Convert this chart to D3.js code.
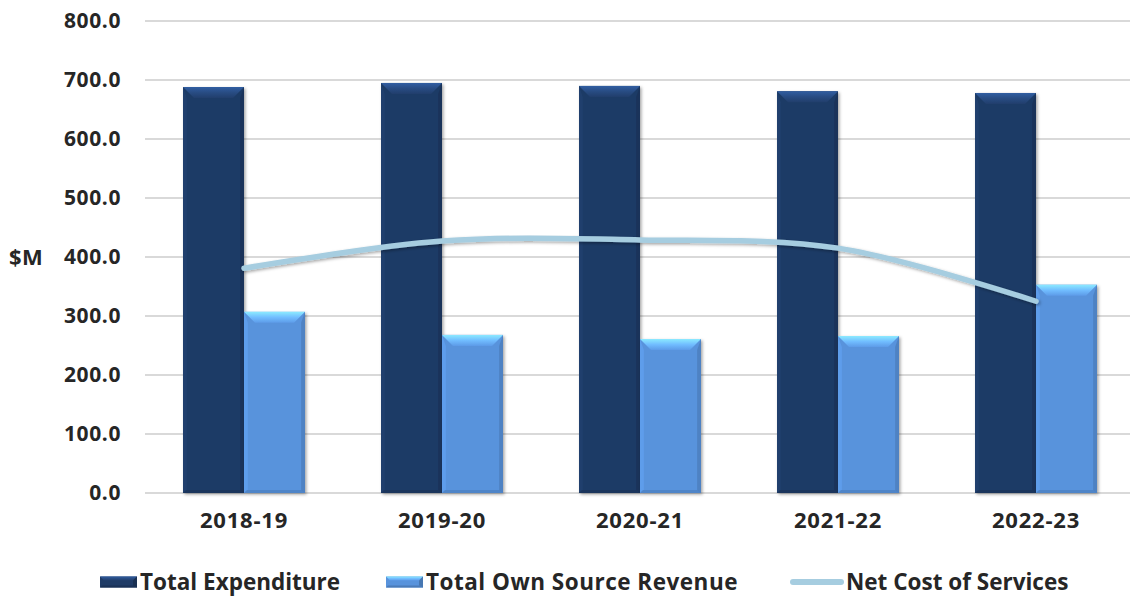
<!DOCTYPE html>
<html>
<head>
<meta charset="utf-8">
<script src="https://cdn.jsdelivr.net/npm/d3@7"></script>
<style>
  html, body { margin: 0; padding: 0; background: #fff; overflow: hidden; }
  svg { display: block; font-family: "Open Sans", sans-serif; }
</style>
</head>
<body>
<svg id="chart" width="1130" height="598"></svg>
<script>
// Financial years shown on the x axis
const years = ["2018-19", "2019-20", "2020-21", "2021-22", "2022-23"];
// Values in $M
const totalExpenditure = [688, 695, 690, 681, 678];
const ownSourceRevenue = [307, 268, 261, 266, 353];
const netCostOfServices = [381, 427, 429, 415, 325];
// Y axis ticks
const yTicks = [0, 100, 200, 300, 400, 500, 600, 700, 800];

const svg = d3.select("#chart");
const W = 1130, H = 598;
const plot = { left: 145, right: 1135, top: 21, bottom: 493 };

const x = d3.scaleBand().domain(years).range([plot.left, plot.right]).paddingInner(0).paddingOuter(0);
const y = d3.scaleLinear().domain([0, 800]).range([plot.bottom, plot.top]);

const colors = {
  exp: "#1f3b66",
  rev: "#5893dc",
  net: "#a6cde0",
  grid: "#d9d9d9",
  text: "#262626"
};
const FONT = "'Open Sans', sans-serif";

const defs = svg.append("defs");
const shadow = defs.append("filter").attr("id", "shadow")
  .attr("x", "-20%").attr("y", "-5%").attr("width", "140%").attr("height", "115%");
shadow.append("feDropShadow").attr("dx", 1.5).attr("dy", 1.5)
  .attr("stdDeviation", 1.5).attr("flood-color", "#000").attr("flood-opacity", 0.35);

function bevelGradients(id, base) {
  const c = d3.color(base);
  const top = defs.append("linearGradient").attr("id", id + "-top")
    .attr("x1", 0).attr("y1", 0).attr("x2", 0).attr("y2", 1);
  top.append("stop").attr("offset", 0).attr("stop-color", c.brighter(1.3));
  top.append("stop").attr("offset", 0.5).attr("stop-color", c.brighter(0.7));
  top.append("stop").attr("offset", 1).attr("stop-color", c.brighter(0.15));
}
bevelGradients("exp", colors.exp);
bevelGradients("rev", colors.rev);

// Gridlines
svg.append("g").selectAll("line").data(yTicks).join("line")
  .attr("x1", plot.left).attr("x2", W)
  .attr("y1", d => y(d)).attr("y2", d => y(d))
  .attr("stroke", colors.grid).attr("stroke-width", 2);

// Y axis labels
const yAxis = d3.axisLeft(y).tickValues(yTicks).tickFormat(d3.format(".1f")).tickSize(0).tickPadding(0);
const yg = svg.append("g").attr("transform", `translate(121,0)`).call(yAxis);
yg.select(".domain").remove();
yg.selectAll("text").attr("font-size", 21).attr("font-weight", 700)
  .attr("fill", colors.text).attr("font-family", FONT).attr("letter-spacing", 0.6);

svg.append("text").attr("x", 9).attr("y", y(400)).attr("dy", "0.35em")
  .attr("font-size", 22).attr("font-weight", 700).attr("fill", colors.text)
  .attr("letter-spacing", 0.5).text("$M");

// X axis labels
const xAxis = d3.axisBottom(x).tickSize(0).tickPadding(0);
const xg = svg.append("g").attr("transform", `translate(0,${plot.bottom + 19})`).call(xAxis);
xg.select(".domain").remove();
xg.selectAll("text").attr("font-size", 22).attr("font-weight", 700)
  .attr("fill", colors.text).attr("font-family", FONT).attr("dy", "0.71em")
  .attr("letter-spacing", 0.8);

// Bars with bevel
const barW = 61;
function drawBevelBar(g, bx, by, bw, bh, base, id) {
  const b = Math.min(11, bh / 2, bw / 2);
  const c = d3.color(base);
  g.append("rect").attr("x", bx).attr("y", by).attr("width", bw).attr("height", bh)
    .attr("fill", base).attr("filter", "url(#shadow)");
  // top facet
  g.append("path").attr("d", `M${bx},${by}L${bx + bw},${by}L${bx + bw - b},${by + b}L${bx + b},${by + b}Z`)
    .attr("fill", `url(#${id}-top)`);
  // left facet
  g.append("path").attr("d", `M${bx},${by}L${bx + b * 0.35},${by + b}L${bx + b * 0.35},${by + bh - 3}L${bx},${by + bh}Z`)
    .attr("fill", c.brighter(0.3)).attr("opacity", 0.6);
  // right facet
  g.append("path").attr("d", `M${bx + bw},${by}L${bx + bw - b * 0.35},${by + b}L${bx + bw - b * 0.35},${by + bh - 3}L${bx + bw},${by + bh}Z`)
    .attr("fill", c.darker(0.5)).attr("opacity", 0.7);
  // bottom facet
  g.append("path").attr("d", `M${bx},${by + bh}L${bx + 3},${by + bh - 3}L${bx + bw - 3},${by + bh - 3}L${bx + bw},${by + bh}Z`)
    .attr("fill", c.darker(0.4)).attr("opacity", 0.7);
}

const bars = svg.append("g");
years.forEach((yr, i) => {
  const cx = x(yr) + x.bandwidth() / 2;
  const g1 = bars.append("g");
  drawBevelBar(g1, cx - barW, y(totalExpenditure[i]), barW, y(0) - y(totalExpenditure[i]), colors.exp, "exp");
  const g2 = bars.append("g");
  drawBevelBar(g2, cx, y(ownSourceRevenue[i]), barW, y(0) - y(ownSourceRevenue[i]), colors.rev, "rev");
});

// Net cost line (smoothed)
const line = d3.line()
  .x((d, i) => x(years[i]) + x.bandwidth() / 2)
  .y(d => y(d))
  .curve(d3.curveCatmullRom.alpha(0.5));
svg.append("path").datum(netCostOfServices)
  .attr("d", line)
  .attr("fill", "none").attr("stroke", colors.net).attr("stroke-width", 5.5)
  .attr("stroke-linecap", "round").attr("filter", "url(#shadow)");

// Legend
const legend = svg.append("g");
const ly = 582;
const legendFont = 22.5;
function legendBar(g, lx, base, id) {
  const lw = 37, lh = 11, b = 4;
  const c = d3.color(base);
  g.append("rect").attr("x", lx).attr("y", ly - lh / 2).attr("width", lw).attr("height", lh).attr("fill", base);
  g.append("path").attr("d", `M${lx},${ly - lh / 2}L${lx + lw},${ly - lh / 2}L${lx + lw - b},${ly - lh / 2 + b}L${lx + b},${ly - lh / 2 + b}Z`)
    .attr("fill", `url(#${id}-top)`);
  g.append("path").attr("d", `M${lx + lw},${ly - lh / 2}L${lx + lw - b},${ly - lh / 2 + b}L${lx + lw - b},${ly + lh / 2 - 2}L${lx + lw},${ly + lh / 2}Z`)
    .attr("fill", c.darker(0.6));
  g.append("path").attr("d", `M${lx},${ly + lh / 2}L${lx + 2},${ly + lh / 2 - 2}L${lx + lw - 2},${ly + lh / 2 - 2}L${lx + lw},${ly + lh / 2}Z`)
    .attr("fill", c.darker(0.5));
}
legendBar(legend, 100, colors.exp, "exp");
legend.append("text").attr("x", 140).attr("y", ly).attr("dy", "0.35em")
  .attr("font-size", legendFont).attr("font-weight", 700).attr("fill", colors.text).text("Total Expenditure");
legendBar(legend, 386, colors.rev, "rev");
legend.append("text").attr("x", 426).attr("y", ly).attr("dy", "0.35em")
  .attr("font-size", legendFont).attr("font-weight", 700).attr("fill", colors.text)
  .attr("letter-spacing", 0.5).text("Total Own Source Revenue");
legend.append("line").attr("x1", 793).attr("x2", 841).attr("y1", ly).attr("y2", ly)
  .attr("stroke", colors.net).attr("stroke-width", 6).attr("stroke-linecap", "round");
legend.append("text").attr("x", 846).attr("y", ly).attr("dy", "0.35em")
  .attr("font-size", legendFont).attr("font-weight", 700).attr("fill", colors.text).text("Net Cost of Services");
</script>
</body>
</html>
